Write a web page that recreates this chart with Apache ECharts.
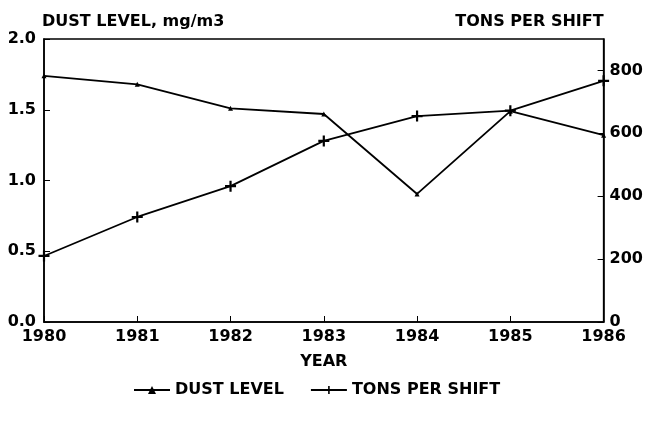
<!DOCTYPE html>
<html>
<head>
<meta charset="utf-8">
<script src="https://cdn.jsdelivr.net/npm/echarts@6/dist/echarts.min.js"></script>
<style>
  html, body { margin: 0; padding: 0; background: #fff; }
  #chart { width: 646px; height: 424px; }
</style>
</head>
<body>
<div id="chart"></div>
<script>
const years = ['1980', '1981', '1982', '1983', '1984', '1985', '1986']
const dustLevel = [1.74, 1.68, 1.51, 1.47, 0.905, 1.49, 1.32]
const tonsPerShift = [210, 334, 432, 576, 655, 672, 767]

const font = 'DejaVu Sans'
const plusPath = 'path://M4,0h2v4h4v2h-4v4h-2v-4h-4v-2h4z'

const chart = echarts.init(document.getElementById('chart'))
chart.setOption({
  animation: false,
  backgroundColor: '#fff',
  textStyle: { fontFamily: font, fontWeight: 'bold', color: '#000' },
  grid: {
    left: 44,
    right: 42,
    top: 39,
    bottom: 102,
    show: true,
    borderColor: '#000',
    borderWidth: 1.5
  },
  legend: {
    top: 377,
    left: 128,
    itemWidth: 36,
    itemHeight: 10,
    itemGap: 26,
    textStyle: { fontFamily: font, fontWeight: 'bold', fontSize: 16, color: '#000' },
    data: ['DUST LEVEL', 'TONS PER SHIFT']
  },
  xAxis: {
    type: 'category',
    data: years,
    boundaryGap: false,
    name: 'YEAR',
    nameLocation: 'middle',
    nameGap: 32,
    nameTextStyle: { fontFamily: font, fontWeight: 'bold', fontSize: 16, color: '#000' },
    axisLine: { lineStyle: { color: '#000', width: 1.5 } },
    axisTick: { inside: true, length: 6, lineStyle: { color: '#000' } },
    axisLabel: { fontFamily: font, fontWeight: 'bold', fontSize: 16, color: '#000', margin: 7 },
    splitLine: { show: false }
  },
  yAxis: [{
    type: 'value',
    min: 0,
    max: 2,
    interval: 0.5,
    name: 'DUST LEVEL, mg/m3',
    nameGap: 9,
    nameTextStyle: { fontFamily: font, fontWeight: 'bold', fontSize: 16, color: '#000', align: 'left', padding: [0, 0, 0, -2] },
    axisLine: { show: true, lineStyle: { color: '#000', width: 1.5 } },
    axisTick: { show: true, inside: true, length: 6, lineStyle: { color: '#000' } },
    axisLabel: {
      fontFamily: font, fontWeight: 'bold', fontSize: 16, color: '#000', margin: 8,
      formatter: v => v.toFixed(1)
    },
    splitLine: { show: false }
  }, {
    type: 'value',
    min: 0,
    max: 900,
    interval: 200,
    position: 'right',
    name: 'TONS PER SHIFT',
    nameGap: 9,
    nameTextStyle: { fontFamily: font, fontWeight: 'bold', fontSize: 16, color: '#000', align: 'right' },
    axisLine: { show: true, lineStyle: { color: '#000', width: 1.5 } },
    axisTick: { show: true, inside: true, length: 6, lineStyle: { color: '#000' } },
    axisLabel: { fontFamily: font, fontWeight: 'bold', fontSize: 16, color: '#000', margin: 6, showMaxLabel: false },
    splitLine: { show: false }
  }],
  series: [{
    name: 'DUST LEVEL',
    type: 'line',
    yAxisIndex: 0,
    data: dustLevel,
    symbol: 'triangle',
    symbolSize: 5,
    itemStyle: { color: '#000' },
    lineStyle: { color: '#000', width: 1.8 }
  }, {
    name: 'TONS PER SHIFT',
    type: 'line',
    yAxisIndex: 1,
    data: tonsPerShift,
    symbol: plusPath,
    symbolSize: 11,
    itemStyle: { color: '#000' },
    lineStyle: { color: '#000', width: 1.8 }
  }]
})
</script>
</body>
</html>
